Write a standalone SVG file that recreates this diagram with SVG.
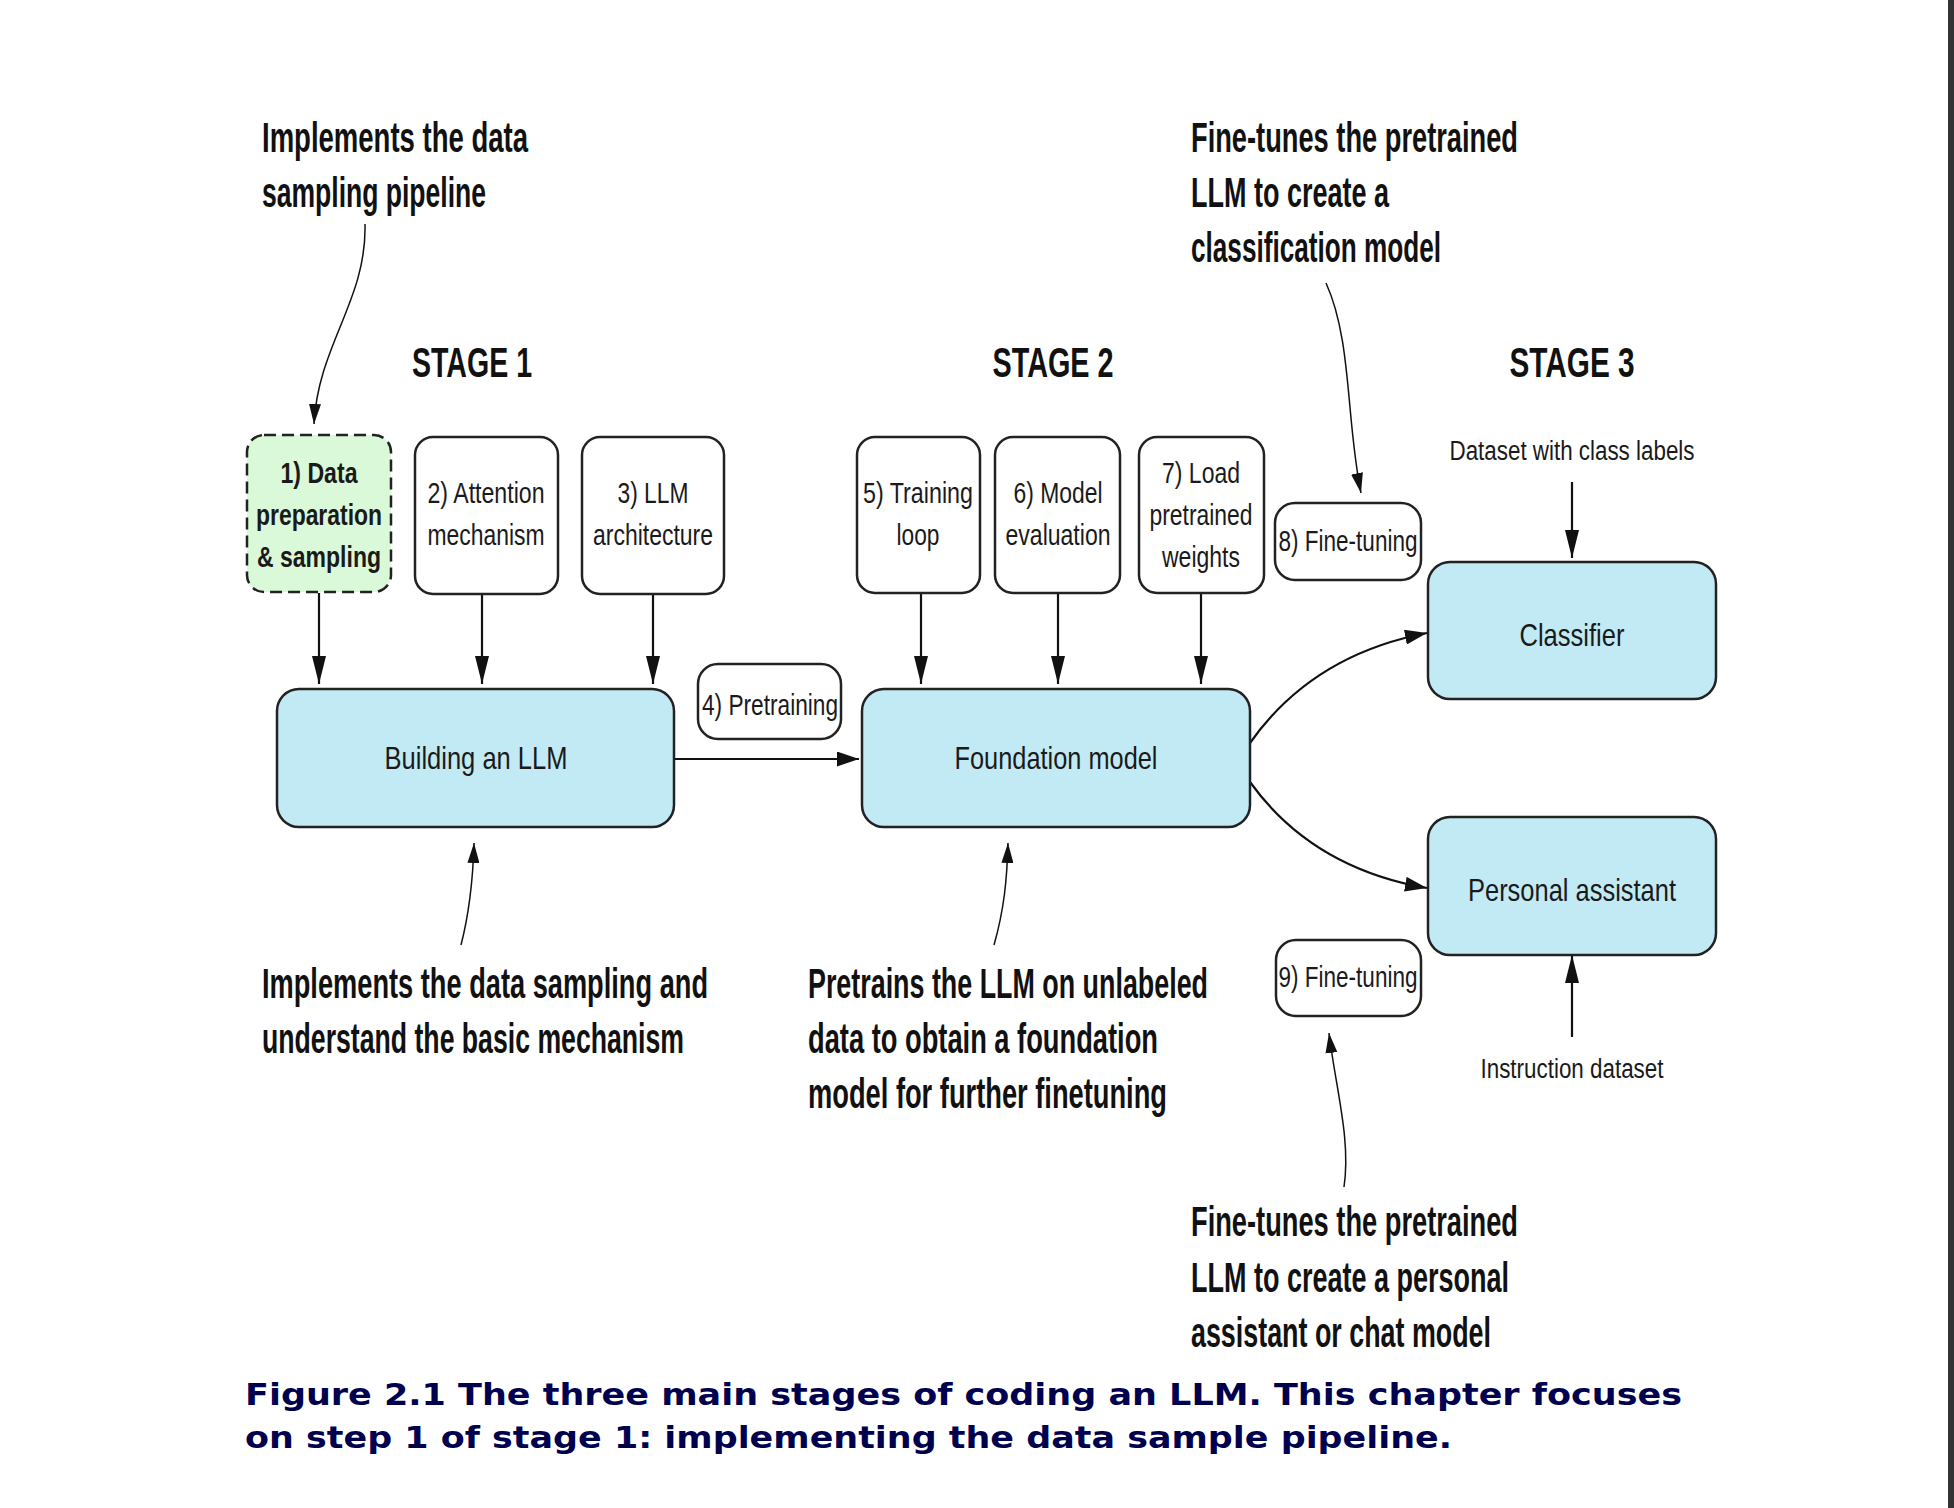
<svg xmlns="http://www.w3.org/2000/svg" width="1954" height="1508" viewBox="0 0 1954 1508">
<style>
.box{fill:#ffffff;stroke:#222;stroke-width:2.5}
.main{fill:#c1eaf4;stroke:#222;stroke-width:2.5}
.green{fill:#daf9d8;stroke:#222;stroke-width:2.5;stroke-dasharray:12 6}
.lbl{font-family:'Liberation Sans',Arial,sans-serif;font-size:29px;fill:#1a1a1a;text-anchor:middle}
.lblb{font-family:'Liberation Sans',Arial,sans-serif;font-size:29px;font-weight:bold;fill:#1a1a1a;text-anchor:middle}
.big{font-family:'Liberation Sans',Arial,sans-serif;font-size:32px;fill:#1a1a1a;text-anchor:middle}
.small{font-family:'Liberation Sans',Arial,sans-serif;font-size:27px;fill:#1a1a1a;text-anchor:middle}
.stage{font-family:'Liberation Sans',Arial,sans-serif;font-size:42px;font-weight:bold;fill:#111}
.ann{font-family:'Liberation Sans',Arial,sans-serif;font-size:42px;font-weight:bold;fill:#111}
.cap{font-family:'DejaVu Sans',Verdana,sans-serif;font-size:31px;font-weight:bold;fill:#00004f}
.conn{fill:none;stroke:#111;stroke-width:2.2}
.note{fill:none;stroke:#111;stroke-width:1.5}
</style>
<defs>
<marker id="arrL" markerUnits="userSpaceOnUse" markerWidth="28" markerHeight="14" refX="28" refY="7" orient="auto"><path d="M0,0 L28,7 L0,14 z" fill="#111"/></marker>
<marker id="arr" markerUnits="userSpaceOnUse" markerWidth="22" markerHeight="15" refX="22" refY="7.5" orient="auto"><path d="M0,0 L22,7.5 L0,15 z" fill="#111"/></marker>
<marker id="arrS" markerUnits="userSpaceOnUse" markerWidth="20" markerHeight="12" refX="20" refY="6" orient="auto"><path d="M0,0 L20,6 L0,12 z" fill="#111"/></marker>
</defs>
<rect x="0" y="0" width="1954" height="1508" fill="#ffffff"/>
<rect x="1948" y="0" width="6" height="1508" fill="#333333"/>

<g id="stage-titles">
<text class="stage" x="472" y="377" text-anchor="middle" textLength="120" lengthAdjust="spacingAndGlyphs">STAGE 1</text>
<text class="stage" x="1053" y="377" text-anchor="middle" textLength="121" lengthAdjust="spacingAndGlyphs">STAGE 2</text>
<text class="stage" x="1572" y="377" text-anchor="middle" textLength="125" lengthAdjust="spacingAndGlyphs">STAGE 3</text>
</g>

<g id="connectors">
<line class="conn" x1="319" y1="593" x2="319" y2="684" marker-end="url(#arrL)"/>
<line class="conn" x1="482" y1="594" x2="482" y2="684" marker-end="url(#arrL)"/>
<line class="conn" x1="653" y1="594" x2="653" y2="684" marker-end="url(#arrL)"/>
<line class="conn" x1="921" y1="593" x2="921" y2="684" marker-end="url(#arrL)"/>
<line class="conn" x1="1058" y1="593" x2="1058" y2="684" marker-end="url(#arrL)"/>
<line class="conn" x1="1201" y1="593" x2="1201" y2="684" marker-end="url(#arrL)"/>
<line class="conn" x1="675" y1="759" x2="859" y2="759" stroke-width="2.6" marker-end="url(#arr)"/>
<path class="conn" d="M1250,743 Q1312,655 1427,633" stroke-width="2.6" marker-end="url(#arr)"/>
<path class="conn" d="M1250,782 Q1312,868 1427,888" stroke-width="2.6" marker-end="url(#arr)"/>
<line class="conn" x1="1572" y1="482" x2="1572" y2="558" marker-end="url(#arrL)"/>
<line class="conn" x1="1572" y1="1037" x2="1572" y2="955" marker-end="url(#arrL)"/>
<path class="note" d="M365,224 C367,300 318,345 314,424" marker-end="url(#arrS)"/>
<path class="note" d="M1326,283 C1352,340 1346,420 1361,493" marker-end="url(#arrS)"/>
<path class="note" d="M461,945 C470,910 473,880 474,843" marker-end="url(#arrS)"/>
<path class="note" d="M994,945 C1004,910 1007,880 1008,843" marker-end="url(#arrS)"/>
<path class="note" d="M1344,1187 C1351,1140 1336,1090 1329,1033" marker-end="url(#arrS)"/>
</g>

<g id="node-1">
<rect class="green" x="247" y="435" width="144" height="157" rx="17"/>
<text class="lblb" x="319" y="483" textLength="77" lengthAdjust="spacingAndGlyphs">1) Data</text>
<text class="lblb" x="319" y="525" textLength="126" lengthAdjust="spacingAndGlyphs">preparation</text>
<text class="lblb" x="319" y="567" textLength="124" lengthAdjust="spacingAndGlyphs">&amp; sampling</text>
</g>
<g id="node-2">
<rect class="box" x="415" y="437" width="143" height="157" rx="18"/>
<text class="lbl" x="486" y="503" textLength="117" lengthAdjust="spacingAndGlyphs">2) Attention</text>
<text class="lbl" x="486" y="545" textLength="117" lengthAdjust="spacingAndGlyphs">mechanism</text>
</g>
<g id="node-3">
<rect class="box" x="582" y="437" width="142" height="157" rx="18"/>
<text class="lbl" x="653" y="503" textLength="71" lengthAdjust="spacingAndGlyphs">3) LLM</text>
<text class="lbl" x="653" y="545" textLength="120" lengthAdjust="spacingAndGlyphs">architecture</text>
</g>
<g id="node-5">
<rect class="box" x="857" y="437" width="123" height="156" rx="18"/>
<text class="lbl" x="918" y="503" textLength="110" lengthAdjust="spacingAndGlyphs">5) Training</text>
<text class="lbl" x="918" y="545" textLength="43" lengthAdjust="spacingAndGlyphs">loop</text>
</g>
<g id="node-6">
<rect class="box" x="995" y="437" width="125" height="156" rx="18"/>
<text class="lbl" x="1058" y="503" textLength="89" lengthAdjust="spacingAndGlyphs">6) Model</text>
<text class="lbl" x="1058" y="545" textLength="105" lengthAdjust="spacingAndGlyphs">evaluation</text>
</g>
<g id="node-7">
<rect class="box" x="1139" y="437" width="125" height="156" rx="18"/>
<text class="lbl" x="1201" y="483" textLength="78" lengthAdjust="spacingAndGlyphs">7) Load</text>
<text class="lbl" x="1201" y="525" textLength="103" lengthAdjust="spacingAndGlyphs">pretrained</text>
<text class="lbl" x="1201" y="567" textLength="78" lengthAdjust="spacingAndGlyphs">weights</text>
</g>
<g id="node-8">
<rect class="box" x="1275" y="503" width="146" height="77" rx="20"/>
<text class="lbl" x="1348" y="551" textLength="139" lengthAdjust="spacingAndGlyphs">8) Fine-tuning</text>
</g>
<g id="node-4">
<rect class="box" x="698" y="664" width="143" height="75" rx="20"/>
<text class="lbl" x="770" y="715" textLength="136" lengthAdjust="spacingAndGlyphs">4) Pretraining</text>
</g>
<g id="node-9">
<rect class="box" x="1276" y="940" width="145" height="76" rx="20"/>
<text class="lbl" x="1348" y="987" textLength="139" lengthAdjust="spacingAndGlyphs">9) Fine-tuning</text>
</g>
<g id="node-building">
<rect class="main" x="277" y="689" width="397" height="138" rx="22"/>
<text class="big" x="476" y="769" textLength="183" lengthAdjust="spacingAndGlyphs">Building an LLM</text>
</g>
<g id="node-foundation">
<rect class="main" x="862" y="689" width="388" height="138" rx="22"/>
<text class="big" x="1056" y="769" textLength="203" lengthAdjust="spacingAndGlyphs">Foundation model</text>
</g>
<g id="node-classifier">
<rect class="main" x="1428" y="562" width="288" height="137" rx="22"/>
<text class="big" x="1572" y="646" textLength="105" lengthAdjust="spacingAndGlyphs">Classifier</text>
</g>
<g id="node-assistant">
<rect class="main" x="1428" y="817" width="288" height="138" rx="22"/>
<text class="big" x="1572" y="901" textLength="208" lengthAdjust="spacingAndGlyphs">Personal assistant</text>
</g>
<g id="inputs">
<text class="small" x="1572" y="460" textLength="245" lengthAdjust="spacingAndGlyphs">Dataset with class labels</text>
<text class="small" x="1572" y="1078" textLength="183" lengthAdjust="spacingAndGlyphs">Instruction dataset</text>
</g>

<g id="annotations">
<text class="ann" x="262" y="152" textLength="266" lengthAdjust="spacingAndGlyphs">Implements the data</text>
<text class="ann" x="262" y="207" textLength="224" lengthAdjust="spacingAndGlyphs">sampling pipeline</text>
<text class="ann" x="1191" y="152" textLength="327" lengthAdjust="spacingAndGlyphs">Fine-tunes the pretrained</text>
<text class="ann" x="1191" y="207" textLength="198" lengthAdjust="spacingAndGlyphs">LLM to create a</text>
<text class="ann" x="1191" y="262" textLength="250" lengthAdjust="spacingAndGlyphs">classification model</text>
<text class="ann" x="262" y="998" textLength="446" lengthAdjust="spacingAndGlyphs">Implements the data sampling and</text>
<text class="ann" x="262" y="1053" textLength="422" lengthAdjust="spacingAndGlyphs">understand the basic mechanism</text>
<text class="ann" x="808" y="998" textLength="400" lengthAdjust="spacingAndGlyphs">Pretrains the LLM on unlabeled</text>
<text class="ann" x="808" y="1053" textLength="350" lengthAdjust="spacingAndGlyphs">data to obtain a foundation</text>
<text class="ann" x="808" y="1108" textLength="359" lengthAdjust="spacingAndGlyphs">model for further finetuning</text>
<text class="ann" x="1191" y="1236" textLength="327" lengthAdjust="spacingAndGlyphs">Fine-tunes the pretrained</text>
<text class="ann" x="1191" y="1292" textLength="318" lengthAdjust="spacingAndGlyphs">LLM to create a personal</text>
<text class="ann" x="1191" y="1347" textLength="300" lengthAdjust="spacingAndGlyphs">assistant or chat model</text>
</g>

<g id="caption">
<text class="cap" x="245" y="1405" textLength="1437" lengthAdjust="spacingAndGlyphs">Figure 2.1 The three main stages of coding an LLM. This chapter focuses</text>
<text class="cap" x="245" y="1448" textLength="1207" lengthAdjust="spacingAndGlyphs">on step 1 of stage 1: implementing the data sample pipeline.</text>
</g>
</svg>
